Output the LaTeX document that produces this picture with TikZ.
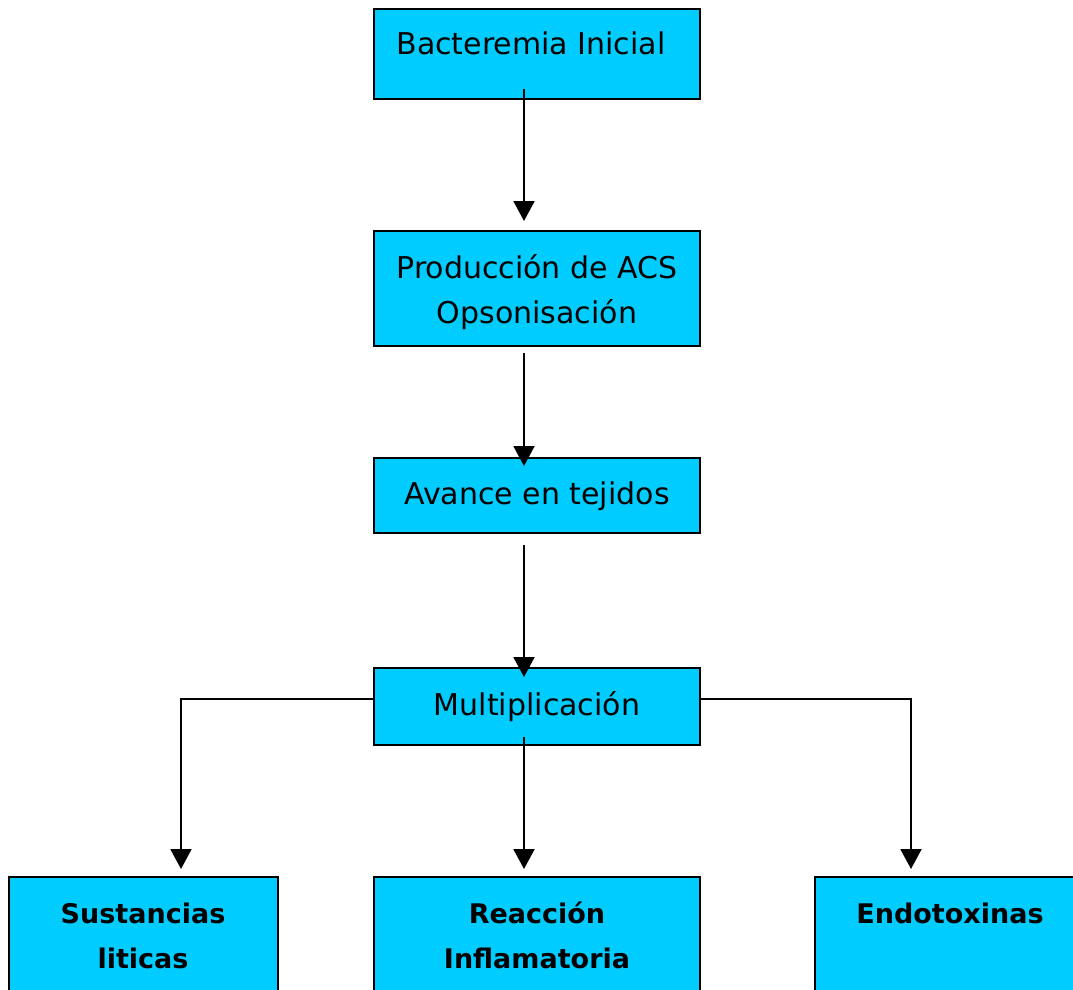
\documentclass[tikz,border=0pt]{standalone}
\usepackage{fontspec}
\setmainfont{DejaVu Sans}
\usetikzlibrary{arrows.meta}
\definecolor{boxfill}{HTML}{00CCFF}
\tikzset{
  stagebox/.style={draw=black, line width=2pt, fill=boxfill, inner sep=0pt, minimum width=#1},
  stagebox/.default=326pt,
  plaintxt/.style={anchor=base, inner sep=0pt, align=center, font=\fontsize{30}{45}\selectfont},
  boldtxt/.style={anchor=base, inner sep=0pt, align=center, font=\fontsize{27}{45}\selectfont\bfseries},
  flow/.style={line width=2pt, -{Triangle[width=21pt,length=20pt]}},
}
\begin{document}
\begin{tikzpicture}[x=1pt,y=1pt]
\useasboundingbox (0,0) rectangle (1073,-990);
\clip (0,0) rectangle (1073,-990);

% main chain of stages
\node[stagebox, minimum height=90pt]  (b1) at (537,-54) {};
\node[stagebox, minimum height=115pt] (b2) at (537,-288.5) {};
\node[stagebox, minimum height=75pt]  (b3) at (537,-495.5) {};
\node[stagebox, minimum height=77pt]  (b4) at (537,-706.5) {};

% three outcomes (run past the lower edge)
\node[stagebox=269pt, minimum height=140pt] (o1) at (143.5,-947) {};
\node[stagebox, minimum height=140pt]       (o2) at (537,-947) {};
\node[stagebox=280pt, minimum height=140pt] (o3) at (955,-947) {};

% labels (base anchor = baseline of the last line)
\node[plaintxt] (t1) at (531,-55) {Bacteremia Inicial};
\node[plaintxt] (t2) at (537,-323) {Producción de ACS\\Opsonisación};
\node[plaintxt] (t3) at (537,-504) {Avance en tejidos};
\node[plaintxt] (t4) at (537,-715) {Multiplicación};
\node[boldtxt]  (u1) at (143,-968) {Sustancias\\liticas};
\node[boldtxt]  (u2) at (537,-968) {Reacción\\Inflamatoria};
\node[boldtxt]  (u3) at (950,-923) {Endotoxinas};

% connectors
\coordinate (lx) at (181,-699);
\coordinate (rx) at (911,-699);
\draw[flow] ([shift={(-13pt,11pt)}]b1.south) -- ([shift={(-13pt,9pt)}]b2.north);
\draw[flow] ([shift={(-13pt,-6pt)}]b2.south) -- ([shift={(-13pt,-9pt)}]b3.north);
\draw[flow] ([shift={(-13pt,-11pt)}]b3.south) -- ([shift={(-13pt,-10pt)}]b4.north);
\draw[flow] ([shift={(-13pt,9pt)}]b4.south) -- ([shift={(-13pt,7pt)}]o2.north);
\draw[flow] (b4.west |- lx) -- (lx) -- ([yshift=7pt]lx |- o1.north);
\draw[flow] (b4.east |- rx) -- (rx) -- ([yshift=7pt]rx |- o3.north);
\end{tikzpicture}
\end{document}
